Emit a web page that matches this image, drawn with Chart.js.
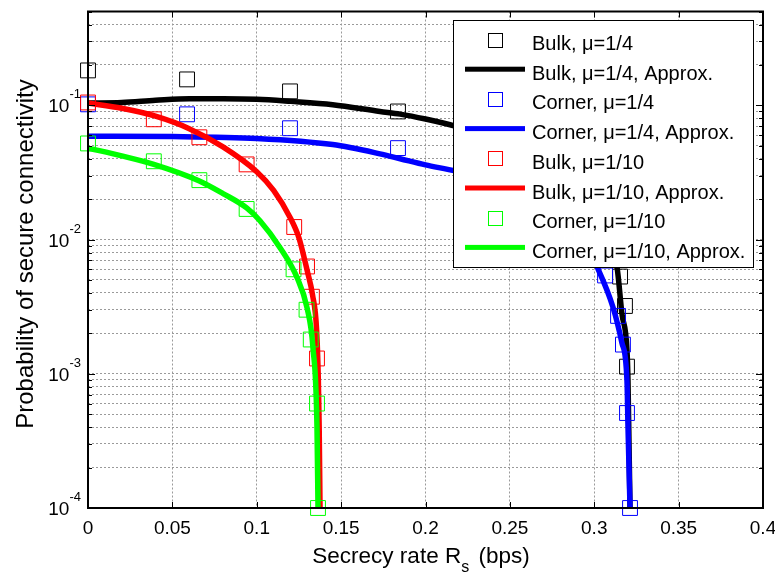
<!DOCTYPE html>
<html>
<head>
<meta charset="utf-8">
<script src="https://cdn.jsdelivr.net/npm/chart.js@4.4.0/dist/chart.umd.min.js"></script>
<style>
  body { margin: 0; background: #fff; }
  #wrap { width: 775px; height: 574px; }
</style>
</head>
<body>
<div id="wrap"><canvas id="chart"></canvas></div>
<script>
// Axis ticks
const xTickValues = [0, 0.05, 0.1, 0.15, 0.2, 0.25, 0.3, 0.35, 0.4];
const xTickLabels = ['0', '0.05', '0.1', '0.15', '0.2', '0.25', '0.3', '0.35', '0.4'];
const yDecades = [1e-4, 1e-3, 1e-2, 1e-1];
const yDecadeExp = ['-4', '-3', '-2', '-1'];

// Simulation markers
const bulkQ_x = [0, 0.0587, 0.1197, 0.1837, 0.3153, 0.3182, 0.3194];
const bulkQ_y = [0.182, 0.156, 0.127, 0.090, 0.0053, 0.0032, 0.00113];
const cornerQ_x = [0, 0.0587, 0.1197, 0.1837, 0.3064, 0.3141, 0.317, 0.3194, 0.3212];
const cornerQ_y = [0.1017, 0.0857, 0.0675, 0.048, 0.0054, 0.0027, 0.00165, 0.00051, 0.0001];
const bulkT_x = [0, 0.039, 0.066, 0.094, 0.1222, 0.1298, 0.1327, 0.1357];
const bulkT_y = [0.105, 0.0787, 0.0578, 0.0363, 0.0124, 0.0063, 0.00375, 0.0013];
const cornerT_x = [0, 0.039, 0.066, 0.094, 0.1218, 0.1295, 0.132, 0.1357, 0.1363];
const cornerT_y = [0.052, 0.0383, 0.0277, 0.0169, 0.006, 0.003, 0.0018, 0.0006, 0.0001];

// Approximation curves
const bulkQA_x = [0, 0.02, 0.04, 0.06, 0.08, 0.1, 0.12, 0.145, 0.173, 0.185, 0.2, 0.218, 0.24, 0.26, 0.28, 0.295, 0.305, 0.3135, 0.3164, 0.3194, 0.32, 0.3206, 0.3212];
const bulkQA_y = [0.104, 0.105, 0.109, 0.112, 0.112, 0.111, 0.107, 0.101, 0.09, 0.086, 0.079, 0.0698, 0.057, 0.045, 0.032, 0.02, 0.012, 0.0062, 0.0028, 0.0015, 0.00089, 0.0003, 0.0001];
const cornerQA_x = [0, 0.05, 0.1, 0.145, 0.173, 0.185, 0.2, 0.218, 0.24, 0.26, 0.28, 0.295, 0.3018, 0.3112, 0.3164, 0.3194, 0.32, 0.3212];
const cornerQA_y = [0.0588, 0.0585, 0.0567, 0.051, 0.0435, 0.04, 0.036, 0.0323, 0.027, 0.022, 0.015, 0.009, 0.0062, 0.0031, 0.0017, 0.00089, 0.0004, 0.0001];
const bulkTA_x = [0, 0.02, 0.04, 0.06, 0.08, 0.1, 0.11, 0.12, 0.125, 0.128, 0.13, 0.133, 0.1355, 0.1365, 0.137, 0.1375];
const bulkTA_y = [0.104, 0.095, 0.083, 0.067, 0.049, 0.032, 0.0232, 0.0144, 0.0103, 0.0074, 0.0058, 0.0039, 0.0021, 0.0009, 0.0004, 0.0001];
const cornerTA_x = [0, 0.02, 0.039, 0.066, 0.08, 0.094, 0.1019, 0.1138, 0.1239, 0.1298, 0.1333, 0.1357, 0.1363];
const cornerTA_y = [0.048, 0.042, 0.0363, 0.0273, 0.022, 0.0172, 0.0138, 0.0087, 0.0052, 0.0031, 0.00157, 0.0004, 0.0001];

const FONT = '"Liberation Sans", Arial, sans-serif';

function pts(xs, ys) {
    return xs.map((x, i) => ({ x: x, y: ys[i] }));
}

function markers(label, color, xs, ys, order) {
    return {
        label: label,
        data: pts(xs, ys),
        showLine: false,
        pointStyle: 'rect',
        pointRadius: 10.5,
        pointBorderWidth: 1,
        borderColor: color,
        pointBorderColor: color,
        backgroundColor: 'rgba(0,0,0,0)',
        pointBackgroundColor: 'rgba(0,0,0,0)',
        clip: false,
        order: order
    };
}

function curve(label, color, xs, ys, order) {
    return {
        label: label,
        data: pts(xs, ys),
        showLine: true,
        pointRadius: 0,
        borderWidth: 5.5,
        borderColor: color,
        backgroundColor: color,
        cubicInterpolationMode: 'monotone',
        borderCapStyle: 'butt',
        order: order
    };
}

// minor grid positions for the log axis (2..9 in each decade)
const yGridValues = [];
yDecades.forEach(d => {
    for (let m = 1; m <= 9; m++) {
        if (d * m <= 0.5 + 1e-9) yGridValues.push(d * m);
    }
});

// Axes labels, ticks, frame and legend, MATLAB style
const decorPlugin = {
    id: 'decor',
    afterDatasetsDraw(chart) {
        const { ctx, chartArea: a, scales } = chart;
        const x = scales.x, y = scales.y;
        ctx.save();
        ctx.strokeStyle = '#000';
        ctx.lineWidth = 1;
        ctx.beginPath();
        xTickValues.forEach(v => {
            const px = Math.round(x.getPixelForValue(v)) + 0.5;
            ctx.moveTo(px, a.bottom); ctx.lineTo(px, a.bottom - 6);
            ctx.moveTo(px, a.top); ctx.lineTo(px, a.top + 6);
        });
        yGridValues.forEach(v => {
            const py = Math.round(y.getPixelForValue(v)) + 0.5;
            const len = yDecades.includes(v) ? 7 : 4;
            ctx.moveTo(a.left, py); ctx.lineTo(a.left + len, py);
            ctx.moveTo(a.right, py); ctx.lineTo(a.right - len, py);
        });
        ctx.stroke();

        ctx.lineWidth = 2;
        ctx.strokeRect(a.left, a.top, a.right - a.left, a.bottom - a.top);

        // x tick labels
        ctx.fillStyle = '#000';
        ctx.font = '19px ' + FONT;
        ctx.textAlign = 'center';
        ctx.textBaseline = 'top';
        xTickValues.forEach((v, i) => {
            ctx.fillText(xTickLabels[i], x.getPixelForValue(v), a.bottom + 11);
        });

        // y tick labels 10^n
        yDecades.forEach((v, i) => {
            const py = y.getPixelForValue(v);
            ctx.font = '13px ' + FONT;
            const ew = ctx.measureText(yDecadeExp[i]).width;
            ctx.textAlign = 'right';
            ctx.textBaseline = 'alphabetic';
            ctx.fillText(yDecadeExp[i], 81, py - 7);
            ctx.font = '19px ' + FONT;
            ctx.fillText('10', 81 - ew, py + 7);
        });

        // x title with subscript
        const parts = [['Secrecy rate R', '22.5px', 0], ['s', '16px', 9], [' (bps)', '22.5px', 0]];
        let total = 0;
        parts.forEach(p => { ctx.font = p[1] + ' ' + FONT; total += ctx.measureText(p[0]).width + (p[0] === 's' ? 3 : 0); });
        let cx = 421 - total / 2;
        ctx.textAlign = 'left';
        ctx.textBaseline = 'alphabetic';
        parts.forEach(p => {
            ctx.font = p[1] + ' ' + FONT;
            ctx.fillText(p[0], cx, 563 + p[2]);
            cx += ctx.measureText(p[0]).width + (p[0] === 's' ? 3 : 0);
        });

        // y title
        ctx.save();
        ctx.translate(26, 254);
        ctx.rotate(-Math.PI / 2);
        ctx.font = '24px ' + FONT;
        ctx.textAlign = 'center';
        ctx.textBaseline = 'middle';
        ctx.fillText('Probability of secure connectivity', 0, 0);
        ctx.restore();
        ctx.restore();
    },
    afterDraw(chart) {
        const ctx = chart.ctx;
        const box = { left: 453, top: 20, right: 753, bottom: 267 };
        ctx.save();
        ctx.fillStyle = '#fff';
        ctx.fillRect(box.left, box.top, box.right - box.left, box.bottom - box.top);
        ctx.strokeStyle = '#000';
        ctx.lineWidth = 1;
        ctx.strokeRect(box.left + 0.5, box.top + 0.5, box.right - box.left, box.bottom - box.top);
        chart.data.datasets.forEach((ds, i) => {
            const cy = 39.5 + i * 29.7;
            if (ds.showLine) {
                ctx.fillStyle = ds.borderColor;
                ctx.fillRect(465, cy - 2.5, 60, 5);
            } else {
                ctx.strokeStyle = ds.borderColor;
                ctx.lineWidth = 1;
                ctx.strokeRect(488.5, Math.round(cy - 7) + 0.5, 14, 14);
            }
            ctx.fillStyle = '#000';
            ctx.font = '20px ' + FONT;
            ctx.textAlign = 'left';
            ctx.textBaseline = 'alphabetic';
            ctx.fillText(ds.label, 532, cy + 10.5);
        });
        ctx.restore();
    }
};

const datasets = [
    markers('Bulk, \u03bc=1/4', '#000000', bulkQ_x, bulkQ_y, 8),
    curve('Bulk, \u03bc=1/4, Approx.', '#000000', bulkQA_x, bulkQA_y, 7),
    markers('Corner, \u03bc=1/4', '#0000ff', cornerQ_x, cornerQ_y, 6),
    curve('Corner, \u03bc=1/4, Approx.', '#0000ff', cornerQA_x, cornerQA_y, 5),
    markers('Bulk, \u03bc=1/10', '#ff0000', bulkT_x, bulkT_y, 4),
    curve('Bulk, \u03bc=1/10, Approx.', '#ff0000', bulkTA_x, bulkTA_y, 3),
    markers('Corner, \u03bc=1/10', '#00ff00', cornerT_x, cornerT_y, 2),
    curve('Corner, \u03bc=1/10, Approx.', '#00ff00', cornerTA_x, cornerTA_y, 1)
];

const chart = new Chart(document.getElementById('chart'), {
    type: 'scatter',
    data: { datasets: datasets },
    options: {
        responsive: true,
        maintainAspectRatio: false,
        animation: false,
        events: [],
        layout: { padding: { left: 88, right: 12, top: 10, bottom: 66 } },
        plugins: { legend: { display: false }, tooltip: { enabled: false } },
        scales: {
            x: {
                type: 'linear',
                min: 0,
                max: 0.4,
                afterBuildTicks: (s) => { s.ticks = xTickValues.map(v => ({ value: v })); },
                ticks: { display: false },
                grid: { color: '#9a9a9a', drawTicks: false, lineWidth: 1 },
                border: { display: false, dash: [2, 2] }
            },
            y: {
                type: 'logarithmic',
                min: 1e-4,
                max: 0.5,
                afterBuildTicks: (s) => { s.ticks = yGridValues.map(v => ({ value: v })); },
                ticks: { display: false },
                grid: { color: '#9a9a9a', drawTicks: false, lineWidth: 1 },
                border: { display: false, dash: [2, 2] }
            }
        }
    },
    plugins: [decorPlugin]
});
</script>
</body>
</html>
